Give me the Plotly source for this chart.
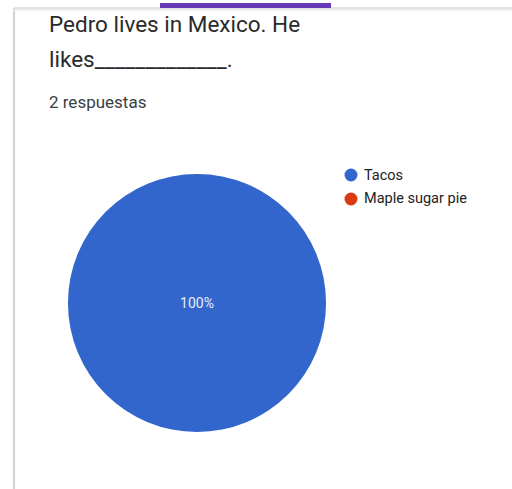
import plotly.graph_objects as go

W, H = 512, 489

categories = ["Tacos", "Maple sugar pie"]
responses = [2, 0]
colors = ["#3366cc", "#dc3912"]

title_line1 = "Pedro lives in Mexico. He"
title_line2 = "likes_____________."
subtitle = "2 respuestas"

def px(x):
    return x / W

def py(y):
    return 1 - y / H

cx, cy, r = 197, 303, 129

fig = go.Figure()
fig.add_trace(go.Pie(
    labels=categories, values=responses,
    marker=dict(colors=colors, line=dict(width=0)),
    sort=False, direction="clockwise", rotation=0,
    textinfo="percent", textposition="inside",
    insidetextfont=dict(family="Roboto", size=14, color="#e8eefa"),
    showlegend=False, hoverinfo="label+percent",
    domain=dict(x=[px(cx - r), px(cx + r)], y=[py(cy + r), py(cy - r)]),
))

shapes = [
    dict(type="line", xref="paper", yref="paper", x0=px(14), x1=px(14), y0=0, y1=py(8),
         line=dict(color="#c4c4c4", width=1.5)),
    dict(type="line", xref="paper", yref="paper", x0=px(14), x1=1, y0=py(8), y1=py(8),
         line=dict(color="#d8d8d8", width=1.5)),
    dict(type="line", xref="paper", yref="paper", x0=px(14), x1=1, y0=py(10), y1=py(10),
         line=dict(color="#f0f0f0", width=2)),
    dict(type="rect", xref="paper", yref="paper", x0=px(160), x1=px(331), y0=py(8), y1=py(3),
         fillcolor="#673ab7", line=dict(width=0)),
]

annotations = [
    dict(text=title_line1, x=px(47), y=py(9), xref="paper", yref="paper",
         xanchor="left", yanchor="top", showarrow=False,
         font=dict(family="Roboto", size=22.5, color="#2a2a2a")),
    dict(text=title_line2, x=px(47), y=py(44), xref="paper", yref="paper",
         xanchor="left", yanchor="top", showarrow=False,
         font=dict(family="Roboto", size=22.5, color="#2a2a2a")),
    dict(text=subtitle, x=px(47), y=py(90), xref="paper", yref="paper",
         xanchor="left", yanchor="top", showarrow=False,
         font=dict(family="Roboto", size=17, color="#3c4043")),
]

# legend (circle markers + labels)
leg_x, leg_y0, leg_dy = 351, 175, 24
for i, (cat, col) in enumerate(zip(categories, colors)):
    yy = leg_y0 + i * leg_dy
    shapes.append(dict(type="circle", xref="paper", yref="paper",
                       xsizemode="pixel", ysizemode="pixel",
                       xanchor=px(leg_x), yanchor=py(yy),
                       x0=-6.5, x1=6.5, y0=-6.5, y1=6.5,
                       fillcolor=col, line=dict(width=0)))
    annotations.append(dict(text=cat, x=px(leg_x + 11), y=py(yy), xref="paper", yref="paper",
                            xanchor="left", yanchor="middle", showarrow=False,
                            font=dict(family="Roboto", size=14.5, color="#222222")))

fig.update_layout(
    width=W, height=H,
    margin=dict(l=0, r=0, t=0, b=0),
    paper_bgcolor="white", plot_bgcolor="white",
    shapes=shapes, annotations=annotations,
    showlegend=False,
)

fig.write_html("out.html")
